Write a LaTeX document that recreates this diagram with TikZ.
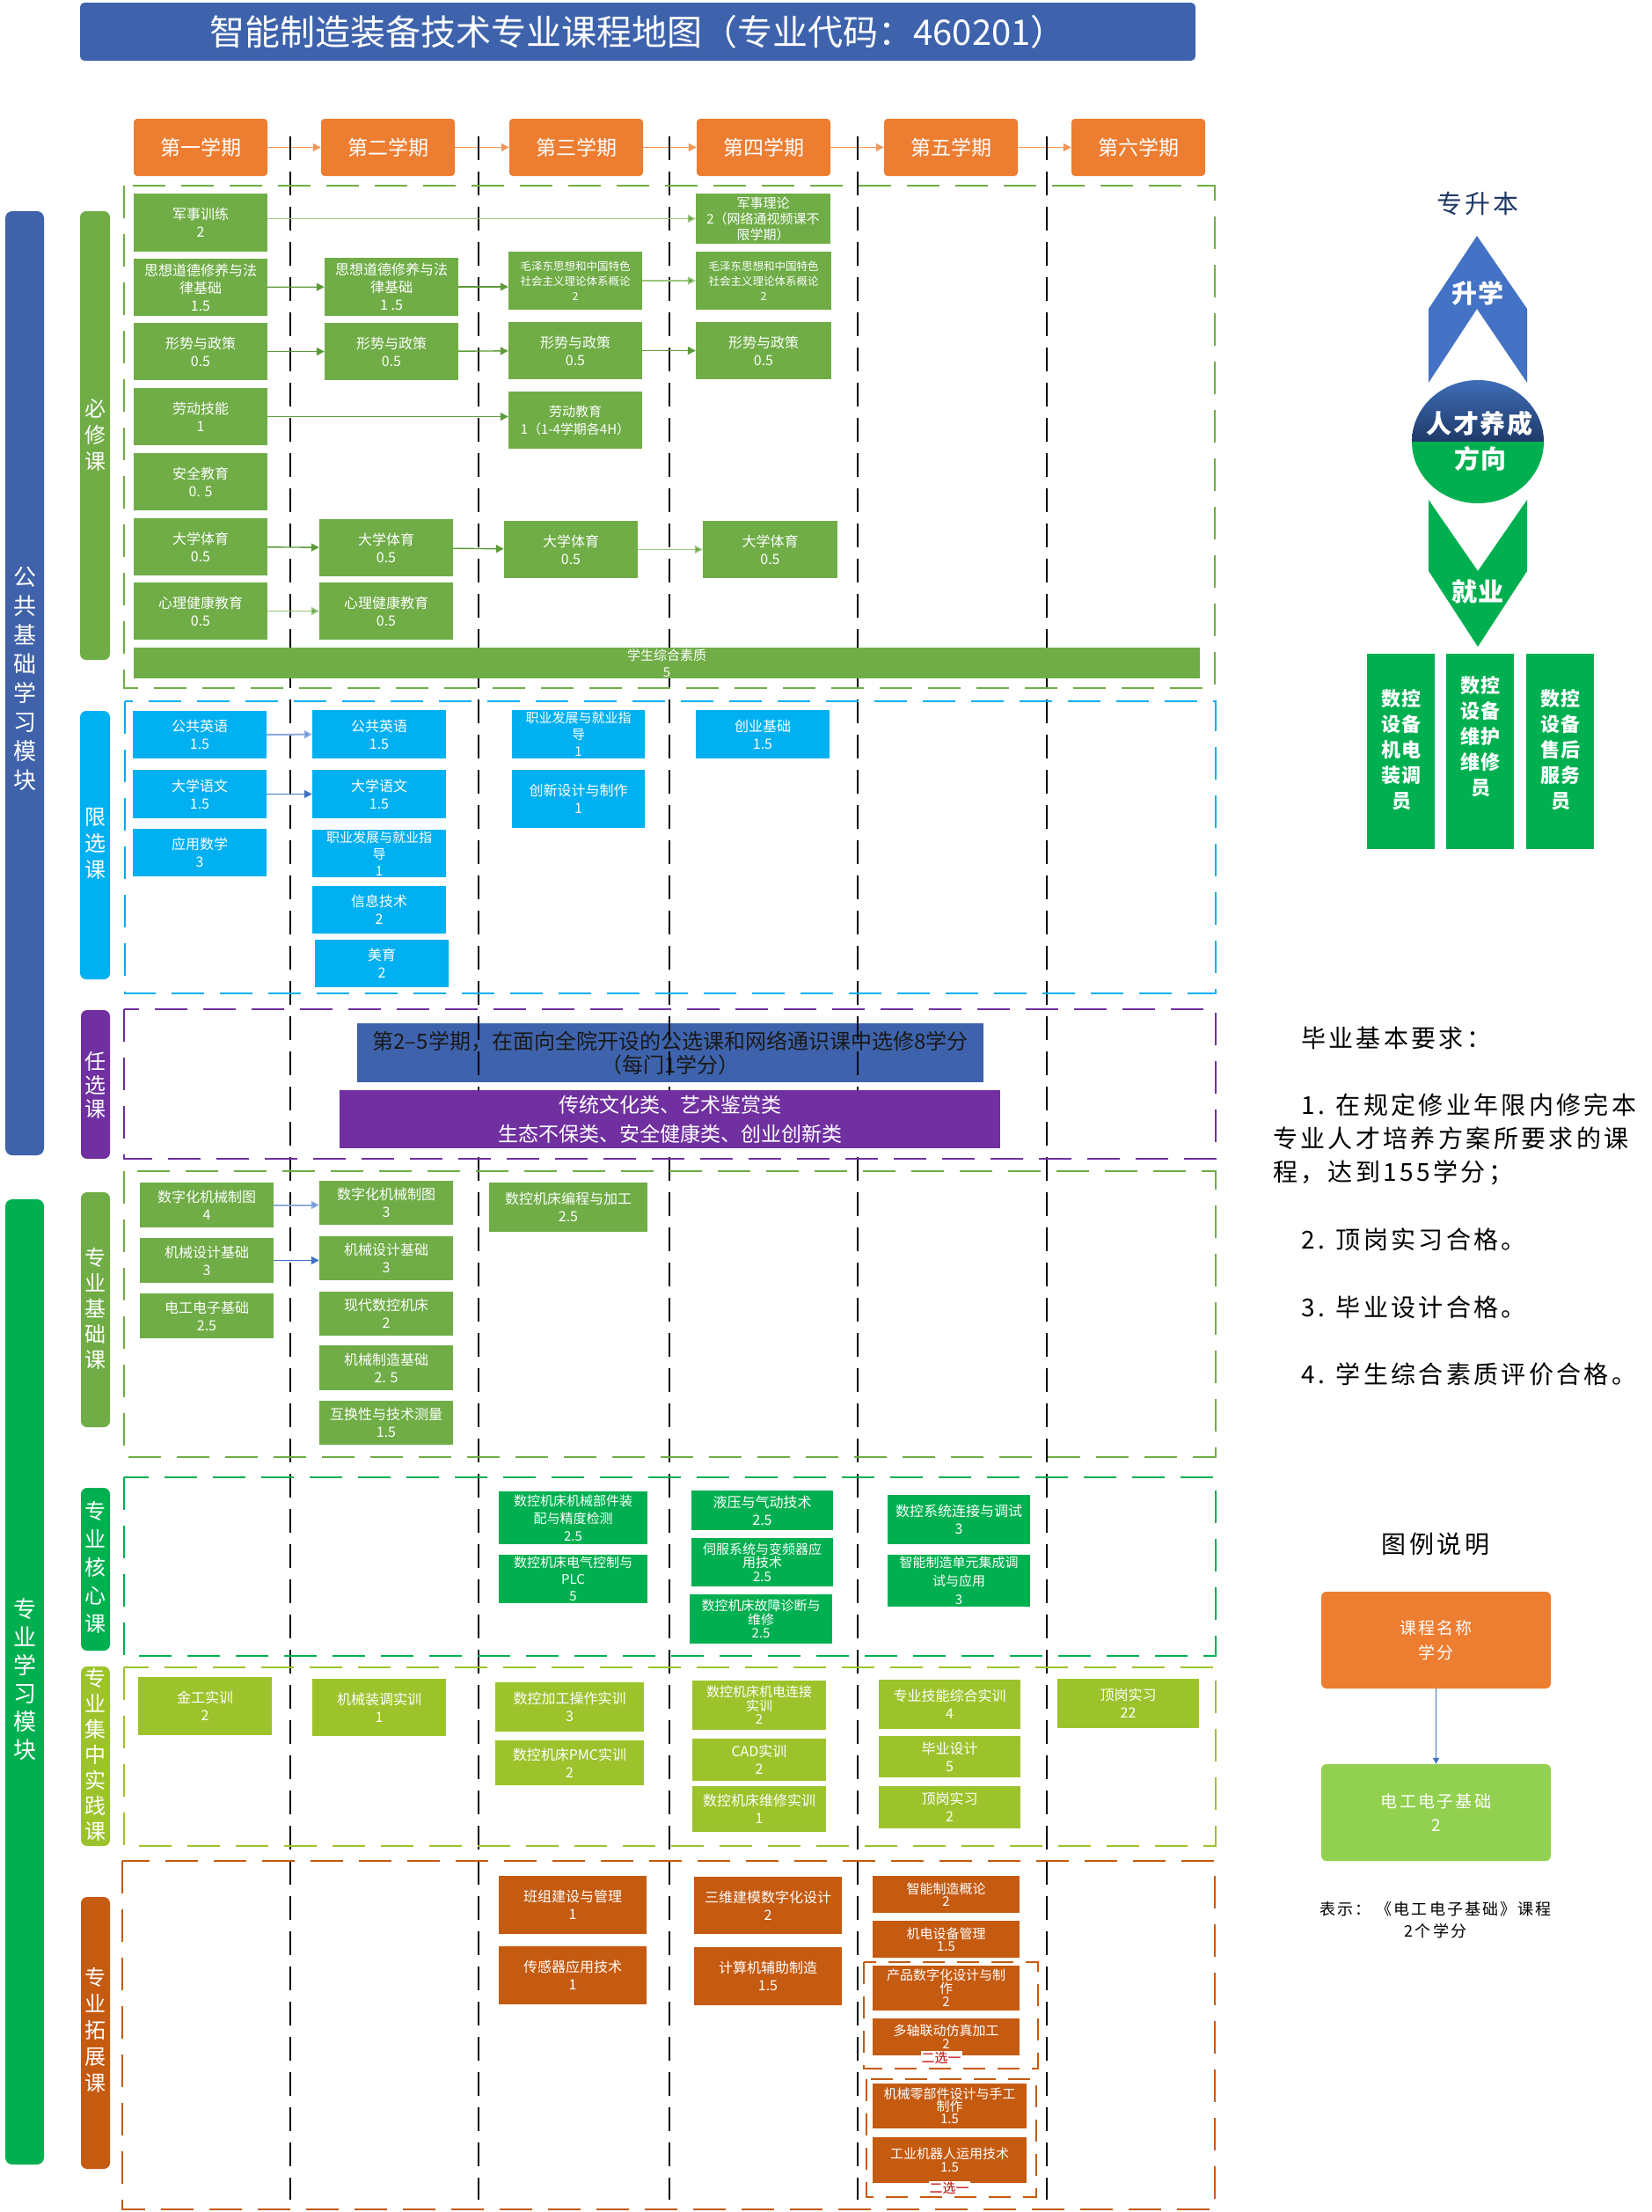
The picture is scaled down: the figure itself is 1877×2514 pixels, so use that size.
\documentclass[tikz,border=0pt]{standalone}
\usepackage{fontspec}
\setmainfont{Noto Sans CJK SC}
\newfontfamily\wf[LetterSpace=12]{Noto Sans CJK SC}
\newfontfamily\wfb[LetterSpace=6]{Noto Sans CJK SC}
\usetikzlibrary{arrows.meta}
\definecolor{ctitle}{HTML}{3E63AC}
\definecolor{corg}{HTML}{ED7D31}
\definecolor{cg}{HTML}{70AD47}
\definecolor{cga}{HTML}{5E9A3A}
\definecolor{ccy}{HTML}{00B0F0}
\definecolor{cpu}{HTML}{7030A0}
\definecolor{cbig}{HTML}{3F62AA}
\definecolor{cg2}{HTML}{00B050}
\definecolor{cyg}{HTML}{9DC32C}
\definecolor{co}{HTML}{C55A11}
\definecolor{clg}{HTML}{92D050}
\definecolor{cch}{HTML}{4472C4}
\definecolor{clb}{HTML}{8FAADC}
\definecolor{cnavy}{HTML}{1F3864}
\definecolor{cdr}{HTML}{C00000}
\definecolor{cbt}{HTML}{4070BC}
\definecolor{cbb}{HTML}{1F3A68}
\newcommand\fz[2]{\fontsize{#1}{#2}\selectfont}
\newcommand\crs[7]{\node[#6, minimum width={#4-#2}, minimum height={#5-#3}] (#1) at ({(#2+#4)/2},{(#3+#5)/2}) {#7};}
\begin{document}
\begin{tikzpicture}[x=1pt,y=-1pt,
 bx/.style={inner sep=0pt, align=center, text=white, font=\fz{16}{20}},
 boxg/.style={bx, fill=cg},
 boxc/.style={bx, fill=ccy},
 boxk/.style={bx, fill=cg2},
 boxy/.style={bx, fill=cyg},
 boxo/.style={bx, fill=co},
 sem/.style={fill=corg, rounded corners=4pt, minimum width=152pt, minimum height=65pt, text=white, font=\fz{23}{25}, inner sep=0pt},
 vl/.style={text=white, align=center, inner sep=0pt, font=\fz{24}{30}},
 frm/.style={line width=2.8pt, dash pattern=on 37pt off 18pt},
 frmb/.style={line width=2.8pt, dash pattern=on 25pt off 14pt},
 vln/.style={line width=1.5pt, dash pattern=on 27pt off 13pt},
 ga/.style={draw=cga, line width=1.4pt, -{Triangle[length=9pt,width=9pt]}},
 gal/.style={draw=cg!70!white, line width=1.6pt, -{Triangle[length=9pt,width=9pt,fill=cga]}},
 ba/.style={draw=cch, line width=1.4pt, -{Triangle[length=9pt,width=9pt]}},
 la/.style={draw=clb, line width=2pt, -{Triangle[length=9pt,width=9pt,fill=cch]}},
 oa/.style={draw=corg!80!white, line width=1.6pt, -{Triangle[length=9pt,width=9pt]}},
 rt/.style={inner sep=0pt, anchor=west, font=\wf\fz{28}{30}},
]
\useasboundingbox (0,0) rectangle (1877,2514);
\fill[white] (0,0) rectangle (1877,2514);

% title
\node[fill=ctitle, rounded corners=5pt, minimum width=1268pt, minimum height=66pt, text=white, font=\fz{40}{42}, inner sep=0pt] (title) at (725,36) {智能制造装备技术专业课程地图（专业代码：460201）};

% semester headers
\node[sem] (h1) at (228,167.5) {第一学期};
\node[sem] (h2) at (441,167.5) {第二学期};
\node[sem] (h3) at (655,167.5) {第三学期};
\node[sem] (h4) at (868,167.5) {第四学期};
\node[sem] (h5) at (1081,167.5) {第五学期};
\node[sem] (h6) at (1294,167.5) {第六学期};
\draw[oa] (h1) -- (h2);
\draw[oa] (h2) -- (h3);
\draw[oa] (h3) -- (h4);
\draw[oa] (h4) -- (h5);
\draw[oa] (h5) -- (h6);

% elective blue box (under the lines)
\crs{rb}{406}{1163}{1118}{1230}{bx, fill=ctitle, text=black!90, font=\fz{24}{27}}{第2–5学期，在面向全院开设的公选课和网络通识课中选修8学分\\（每门1学分）}

% vertical semester lines
\foreach \xx in {330,544,761,975,1190} \draw[vln] (\xx,155) -- (\xx,2500);

% frames
\draw[frm, draw=cg] (141,211) rectangle (1381,782);
\draw[frm, draw=ccy] (142,797) rectangle (1382,1129);
\draw[frm, draw=cpu] (141,1147) rectangle (1382,1317);
\draw[frm, draw=cg] (141,1331) rectangle (1382,1656);
\draw[frm, draw=cg2] (141,1679) rectangle (1382,1882);
\draw[frm, draw=cyg] (141,1895) rectangle (1382,2098);
\draw[frm, draw=co] (139,2115) rectangle (1381,2511);
\draw[frmb, draw=co] (982,2230) rectangle (1180,2351);
\draw[frmb, draw=co] (985,2363) rectangle (1178,2497);

% module bars
\fill[cbig, rounded corners=8pt] (6,240) rectangle (50,1313);
\node[vl, font=\fz{26}{33}] (m1) at (28,771) {公\\共\\基\\础\\学\\习\\模\\块};
\fill[cg2, rounded corners=8pt] (6,1363) rectangle (50,2460);
\node[vl, font=\fz{26}{32}] (m2) at (28,1909) {专\\业\\学\\习\\模\\块};

% category bars
\fill[cg, rounded corners=7pt] (91,240) rectangle (125,750);
\node[vl] (k1) at (108,494) {必\\修\\课};
\fill[ccy, rounded corners=7pt] (91,808) rectangle (125,1113);
\node[vl] (k2) at (108,959) {限\\选\\课};
\fill[cpu, rounded corners=7pt] (92,1148) rectangle (125,1317);
\node[vl, font=\fz{24}{27}] (k3) at (108,1233) {任\\选\\课};
\fill[cg, rounded corners=7pt] (92,1355) rectangle (125,1622);
\node[vl, font=\fz{24}{29}] (k4) at (108,1487) {专\\业\\基\\础\\课};
\fill[cg2, rounded corners=7pt] (92,1691) rectangle (125,1876);
\node[vl, font=\fz{24}{32}] (k5) at (108,1781) {专\\业\\核\\心\\课};
\fill[cyg, rounded corners=7pt] (92,1894) rectangle (125,2098);
\node[vl, font=\fz{24}{29}] (k6) at (108,1994) {专\\业\\集\\中\\实\\践\\课};
\fill[co, rounded corners=7pt] (92,2156) rectangle (125,2465);
\node[vl] (k7) at (108,2307) {专\\业\\拓\\展\\课};

% required courses
\crs{a1}{152}{220}{304}{286}{boxg}{军事训练\\2}
\crs{a2}{152}{294}{304}{359}{boxg}{思想道德修养与法\\律基础\\1.5}
\crs{a3}{152}{367}{304}{432}{boxg}{形势与政策\\0.5}
\crs{a4}{152}{441}{304}{506}{boxg}{劳动技能\\1}
\crs{a5}{152}{515}{304}{580}{boxg}{安全教育\\0. 5}
\crs{a6}{152}{589}{304}{654}{boxg}{大学体育\\0.5}
\crs{a7}{152}{662}{304}{727}{boxg}{心理健康教育\\0.5}
\crs{b2}{369}{293}{521}{359}{boxg}{思想道德修养与法\\律基础\\1 .5}
\crs{b3}{369}{367}{521}{432}{boxg}{形势与政策\\0.5}
\crs{b6}{363}{590}{515}{655}{boxg}{大学体育\\0.5}
\crs{b7}{363}{662}{515}{727}{boxg}{心理健康教育\\0.5}
\crs{c2}{578}{286}{730}{352}{boxg, font=\fz{12.5}{17}}{毛泽东思想和中国特色\\社会主义理论体系概论\\2}
\crs{c3}{578}{366}{730}{431}{boxg}{形势与政策\\0.5}
\crs{c4}{578}{445}{730}{510}{boxg, font=\fz{15}{20}}{劳动教育\\1（1-4学期各4H）}
\crs{c6}{573}{592}{725}{657}{boxg}{大学体育\\0.5}
\crs{d1}{791}{220}{944}{277}{boxg, font=\fz{15}{18}}{军事理论\\2（网络通视频课不\\限学期）}
\crs{d2}{791}{286}{945}{352}{boxg, font=\fz{12.5}{17}}{毛泽东思想和中国特色\\社会主义理论体系概论\\2}
\crs{d3}{791}{366}{945}{431}{boxg}{形势与政策\\0.5}
\crs{d6}{799}{592}{952}{657}{boxg}{大学体育\\0.5}
\crs{zh}{152}{736}{1364}{771}{boxg, font=\fz{15}{19}}{学生综合素质\\5}

\draw[gal] (a1.east |- d1.west) -- (d1.west);
\draw[ga] (a2) -- (b2);
\draw[ga] (b2.east) -- (b2.east -| c2.west);
\draw[gal] (c2) -- (d2);
\draw[ga] (a3) -- (b3);
\draw[ga] (b3) -- (c3);
\draw[ga] (c3) -- (d3);
\draw[ga] (a4.east) -- (a4.east -| c4.west);
\draw[ga] (a6) -- (b6);
\draw[ga] (b6) -- (c6);
\draw[gal] (c6) -- (d6);
\draw[gal] (a7) -- (b7);

% limited electives
\crs{e1}{151}{808}{303}{862}{boxc}{公共英语\\1.5}
\crs{e2}{151}{875}{303}{930}{boxc}{大学语文\\1.5}
\crs{e3}{151}{942}{303}{996}{boxc}{应用数学\\3}
\crs{f1}{355}{807}{507}{862}{boxc}{公共英语\\1.5}
\crs{f2}{355}{875}{507}{930}{boxc}{大学语文\\1.5}
\crs{f3}{355}{943}{507}{997}{boxc, font=\fz{15}{19}}{职业发展与就业指\\导\\1}
\crs{f4}{355}{1007}{507}{1061}{boxc}{信息技术\\2}
\crs{f5}{358}{1068}{510}{1122}{boxc}{美育\\2}
\crs{g1}{582}{807}{733}{862}{boxc, font=\fz{15}{19}}{职业发展与就业指\\导\\1}
\crs{g2}{582}{875}{733}{941}{boxc}{创新设计与制作\\1}
\crs{g3}{791}{807}{943}{862}{boxc}{创业基础\\1.5}
\draw[la] (e1) -- (f1);
\draw[ba] (e2) -- (f2);

% free electives purple box
\crs{rp}{386}{1239}{1137}{1305}{bx, fill=cpu, font=\fz{23}{33}}{传统文化类、艺术鉴赏类\\生态不保类、安全健康类、创业创新类}

% professional basic
\crs{i1}{159}{1344}{311}{1395}{boxg}{数字化机械制图\\4}
\crs{i2}{159}{1407}{311}{1458}{boxg}{机械设计基础\\3}
\crs{i3}{159}{1470}{311}{1521}{boxg}{电工电子基础\\2.5}
\crs{j1}{363}{1342}{515}{1392}{boxg}{数字化机械制图\\3}
\crs{j2}{363}{1405}{515}{1455}{boxg}{机械设计基础\\3}
\crs{j3}{363}{1468}{515}{1518}{boxg}{现代数控机床\\2}
\crs{j4}{363}{1529}{515}{1580}{boxg}{机械制造基础\\2. 5}
\crs{j5}{363}{1592}{515}{1642}{boxg}{互换性与技术测量\\1.5}
\crs{j6}{556}{1344}{736}{1400}{boxg}{数控机床编程与加工\\2.5}
\draw[la] (i1) -- (i1 -| j1.west);
\draw[ba] (i2) -- (i2 -| j2.west);

% professional core
\crs{l1}{567}{1695}{736}{1755}{boxk, font=\fz{15}{20}}{数控机床机械部件装\\配与精度检测\\2.5}
\crs{l2}{567}{1767}{736}{1822}{boxk, font=\fz{15}{19}}{数控机床电气控制与\\PLC\\5}
\crs{n1}{786}{1694}{947}{1739}{boxk}{液压与气动技术\\2.5}
\crs{n2}{786}{1748}{947}{1803}{boxk, font=\fz{15}{15.5}}{伺服系统与变频器应\\用技术\\2.5}
\crs{n3}{784}{1812}{946}{1868}{boxk, font=\fz{15}{15.5}}{数控机床故障诊断与\\维修\\2.5}
\crs{o1}{1009}{1699}{1171}{1755}{boxk}{数控系统连接与调试\\3}
\crs{o2}{1009}{1767}{1171}{1826}{boxk, font=\fz{15}{21}}{智能制造单元集成调\\试与应用\\3}

% practice
\crs{p1}{157}{1906}{309}{1972}{boxy}{金工实训\\2}
\crs{p2}{355}{1908}{507}{1973}{boxy}{机械装调实训\\1}
\crs{q1}{563}{1912}{732}{1968}{boxy}{数控加工操作实训\\3}
\crs{q2}{563}{1978}{732}{2029}{boxy}{数控机床PMC实训\\2}
\crs{r1}{787}{1910}{939}{1966}{boxy, font=\fz{15}{15.5}}{数控机床机电连接\\实训\\2}
\crs{r2}{787}{1976}{939}{2024}{boxy}{CAD实训\\2}
\crs{r3}{787}{2030}{939}{2082}{boxy}{数控机床维修实训\\1}
\crs{s1}{999}{1909}{1160}{1965}{boxy}{专业技能综合实训\\4}
\crs{s2}{999}{1973}{1160}{2020}{boxy}{毕业设计\\5}
\crs{s3}{999}{2030}{1160}{2078}{boxy}{顶岗实习\\2}
\crs{t1}{1202}{1908}{1363}{1964}{boxy}{顶岗实习\\22}

% extension
\crs{u1}{567}{2132}{735}{2198}{boxo}{班组建设与管理\\1}
\crs{u2}{567}{2212}{735}{2278}{boxo}{传感器应用技术\\1}
\crs{v1}{789}{2133}{957}{2198}{boxo}{三维建模数字化设计\\2}
\crs{v2}{789}{2213}{957}{2279}{boxo}{计算机辅助制造\\1.5}
\crs{w1}{992}{2132}{1159}{2174}{boxo, font=\fz{15}{14.5}}{智能制造概论\\2}
\crs{w2}{992}{2183}{1159}{2225}{boxo, font=\fz{15}{14.5}}{机电设备管理\\1.5}
\crs{w3}{992}{2234}{1159}{2285}{boxo, font=\fz{15}{15}}{产品数字化设计与制\\作\\2}
\crs{w4}{992}{2294}{1159}{2336}{boxo, font=\fz{15}{15}}{多轴联动仿真加工\\2}
\crs{w5}{992}{2368}{1167}{2419}{boxo, font=\fz{15}{14}}{机械零部件设计与手工\\制作\\1.5}
\crs{w6}{992}{2429}{1167}{2481}{boxo, font=\fz{15}{15}}{工业机器人运用技术\\1.5}
\node[fill=white, text=cdr, font=\fz{15}{16}, inner sep=1pt] (x1) at (1070,2339) {二选一};
\node[fill=white, text=cdr, font=\fz{15}{16}, inner sep=1pt] (x2) at (1079,2487) {二选一};

% right panel: direction
\node[text=cnavy, font=\wf\fz{29}{30}, inner sep=0pt] (zsb) at (1680,231) {专升本};
\fill[cch] (1624,351) -- (1679,268) -- (1736,351) -- (1736,435) -- (1679,351) -- (1624,435) -- cycle;
\node[text=white, font=\wfb\bfseries\fz{29}{30}, inner sep=0pt] (sx) at (1680,333) {升学};
\begin{scope}
\clip (1680,502) ellipse [x radius=75pt, y radius=70pt];
\shade[top color=cbt, bottom color=cbb] (1600,428) rectangle (1760,502);
\fill[cg2] (1600,502) rectangle (1760,576);
\end{scope}
\node[text=white, font=\wfb\bfseries\fz{29}{30}, inner sep=0pt] (rc) at (1682,481) {人才养成};
\node[text=white, font=\wfb\bfseries\fz{29}{30}, inner sep=0pt] (fx) at (1683,521) {方向};
\fill[cg2] (1624,568) -- (1680,649) -- (1736,568) -- (1736,649) -- (1680,735) -- (1624,649) -- cycle;
\node[text=white, font=\wfb\bfseries\fz{29}{30}, inner sep=0pt] (jy) at (1680,672) {就业};
\fill[cg2] (1554,743) rectangle (1631,965);
\fill[cg2] (1644,743) rectangle (1721,965);
\fill[cg2] (1735,743) rectangle (1812,965);
\node[text=white, align=center, font=\wfb\bfseries\fz{22}{29}, inner sep=0pt] (j1t) at (1593,852) {数控\\设备\\机电\\装调\\员};
\node[text=white, align=center, font=\wfb\bfseries\fz{22}{29}, inner sep=0pt] (j2t) at (1683,837) {数控\\设备\\维护\\维修\\员};
\node[text=white, align=center, font=\wfb\bfseries\fz{22}{29}, inner sep=0pt] (j3t) at (1774,852) {数控\\设备\\售后\\服务\\员};

% graduation requirements
\node[rt] (gr0) at (1479,1180) {毕业基本要求：};
\node[rt] (gr1) at (1479,1256) {1. 在规定修业年限内修完本};
\node[rt] (gr2) at (1447,1294) {专业人才培养方案所要求的课};
\node[rt] (gr3) at (1447,1333) {程，达到155学分；};
\node[rt] (gr4) at (1479,1409) {2. 顶岗实习合格。};
\node[rt] (gr5) at (1479,1486) {3. 毕业设计合格。};
\node[rt] (gr6) at (1479,1562) {4. 学生综合素质评价合格。};

% legend
\node[font=\wf\fz{28}{30}, inner sep=0pt] (lgt) at (1632,1755) {图例说明};
\crs{lg1}{1502}{1809}{1763}{1919}{bx, fill=corg, rounded corners=6pt, font=\wf\fz{19}{28}}{课程名称\\学分}
\crs{lg2}{1502}{2005}{1763}{2115}{bx, fill=clg, rounded corners=6pt, font=\wf\fz{19}{27}}{电工电子基础\\2}
\draw[draw=cch, line width=1.2pt, -{Triangle[length=7pt,width=7pt]}] (lg1) -- (lg2);
\node[font=\wf\fz{18}{25}, align=center, inner sep=0pt] (lgn) at (1632,2182) {表示： 《电工电子基础》课程\\2个学分};
\end{tikzpicture}
\end{document}
